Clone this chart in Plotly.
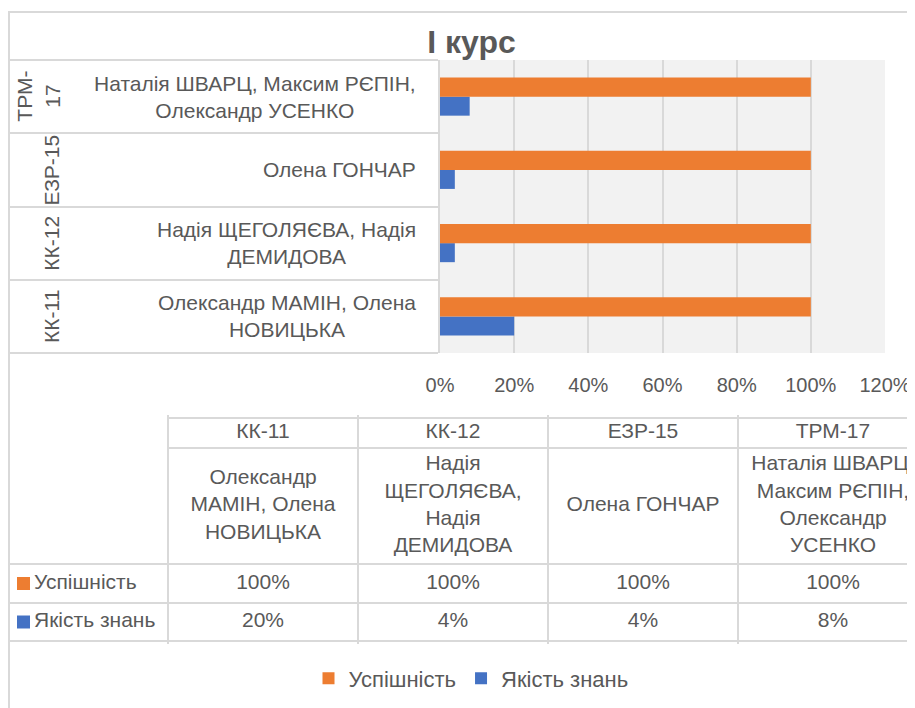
import plotly.graph_objects as go

# ---- data ----
groups = ["КК-11", "КК-12", "ЕЗР-15", "ТРМ-17"]
group_axis_labels = ["КК-11", "КК-12", "ЕЗР-15", "ТРМ-<br>17"]
name_labels = [
    "Олександр МАМІН, Олена<br>НОВИЦЬКА",
    "Надія ЩЕГОЛЯЄВА, Надія<br>ДЕМИДОВА",
    "Олена ГОНЧАР",
    "Наталія ШВАРЦ, Максим РЄПІН,<br>Олександр УСЕНКО",
]
table_name_labels = [
    "Олександр<br>МАМІН, Олена<br>НОВИЦЬКА",
    "Надія<br>ЩЕГОЛЯЄВА,<br>Надія<br>ДЕМИДОВА",
    "Олена ГОНЧАР",
    "Наталія ШВАРЦ,<br>Максим РЄПІН,<br>Олександр<br>УСЕНКО",
]
series_names = ["Успішність", "Якість знань"]
success = [1.00, 1.00, 1.00, 1.00]
quality = [0.20, 0.04, 0.04, 0.08]
x_ticks = [0, 0.2, 0.4, 0.6, 0.8, 1.0, 1.2]
title_text = "І курс"

# ---- style ----
VIEW_W, VIEW_H = 915, 708
OFF = 8                      # default page margin around the figure
W, H = VIEW_W - OFF, VIEW_H - OFF
ORANGE = "#ED7D31"
BLUE = "#4472C4"
GRID = "#D9D9D9"
TXT = "#595959"
FONT = "Liberation Sans, Arial, sans-serif"
FS = 21

# table geometry (pixels)
col_widths = [159, 190, 190, 190, 190]
row_heights = [30, 116, 39, 38]
TABLE_LEFT, TABLE_TOP = 9, 418
TPAD = 3
KEY_SIZE = 13


def fx(px):
    """screen pixel x -> paper fraction"""
    return (px - OFF) / W


def fy(py):
    """screen pixel y -> paper fraction"""
    return 1 - (py - OFF) / H


def cum(vals):
    out, s = [0], 0
    for v in vals:
        s += v
        out.append(s)
    return out


col_edges = cum(col_widths)
row_edges = cum(row_heights)
col_centers = [(a + b) / 2 for a, b in zip(col_edges[:-1], col_edges[1:])]
row_centers = [(a + b) / 2 for a, b in zip(row_edges[:-1], row_edges[1:])]
table_w = VIEW_W - TABLE_LEFT
table_h = row_edges[-1]

fig = go.Figure()

# ---- bars ----
fig.add_trace(go.Bar(y=groups, x=quality, orientation="h", name=series_names[1],
                     marker=dict(color=BLUE, line=dict(width=0)), hoverinfo="skip"))
fig.add_trace(go.Bar(y=groups, x=success, orientation="h", name=series_names[0],
                     marker=dict(color=ORANGE, line=dict(width=0)), hoverinfo="skip"))

# ---- data table (text placed on its own axes) ----
tfont = dict(family=FONT, size=FS, color=TXT)
data_cols = col_centers[1:1 + len(groups)]
fig.add_trace(go.Scatter(x=data_cols, y=[row_centers[0]] * len(groups), text=groups, mode="text",
                         textposition="middle center", textfont=tfont, xaxis="x2", yaxis="y2",
                         showlegend=False, hoverinfo="skip"))
fig.add_trace(go.Scatter(x=data_cols, y=[row_centers[1]] * len(groups), text=table_name_labels,
                         mode="text", textposition="middle center", textfont=tfont,
                         xaxis="x2", yaxis="y2", showlegend=False, hoverinfo="skip"))
for r, vals in enumerate([success, quality]):
    fig.add_trace(go.Scatter(x=data_cols, y=[row_centers[2 + r]] * len(groups),
                             text=[f"{v:.0%}" for v in vals], mode="text",
                             textposition="middle center", textfont=tfont,
                             xaxis="x2", yaxis="y2", showlegend=False, hoverinfo="skip"))
# row headers: colour key squares + series names
colors = [ORANGE, BLUE]
fig.add_trace(go.Scatter(x=[8 + KEY_SIZE / 2] * 2, y=row_centers[2:4], mode="markers",
                         marker=dict(symbol="square", size=KEY_SIZE, color=colors, line=dict(width=0)),
                         xaxis="x2", yaxis="y2", showlegend=False, hoverinfo="skip"))
fig.add_trace(go.Scatter(x=[8 + KEY_SIZE + 4] * 2, y=row_centers[2:4], text=series_names,
                         mode="text", textposition="middle right", textfont=tfont,
                         xaxis="x2", yaxis="y2", showlegend=False, hoverinfo="skip"))

annotations = []
for g, nm, gl in zip(groups, name_labels, group_axis_labels):
    annotations.append(dict(x=fx(418), y=g, xref="paper", yref="y", text=nm, showarrow=False,
                            xanchor="right", yanchor="middle", align="center",
                            font=dict(family=FONT, size=FS, color=TXT)))
    annotations.append(dict(x=fx(65), y=g, xref="paper", yref="y", text=gl, showarrow=False,
                            xanchor="right", yanchor="middle", align="center", textangle=-90,
                            font=dict(family=FONT, size=FS, color=TXT)))

shapes = [
    dict(type="rect", xref="x2", yref="y2", x0=-TPAD, x1=table_w + TPAD, y0=-TPAD, y1=table_h + TPAD,
         fillcolor="white", line=dict(width=0), layer="below"),
    dict(type="rect", xref="x2", yref="y2", x0=-TPAD, x1=col_edges[1] - 1, y0=-TPAD, y1=row_edges[2] - 1,
         fillcolor="white", line=dict(width=0), layer="between"),
    dict(type="rect", xref="paper", yref="paper", x0=fx(9), x1=1.2, y0=-0.2, y1=fy(12),
         line=dict(color=GRID, width=2), fillcolor="rgba(0,0,0,0)", layer="above"),
]

fig.update_layout(
    width=W, height=H,
    margin=dict(l=0, r=0, t=0, b=0, autoexpand=False),
    paper_bgcolor="white",
    plot_bgcolor="#F2F2F2",
    barmode="group", bargap=0.48, bargroupgap=0,
    title=dict(text=f"<b>{title_text}</b>", x=fx(471.5), xanchor="center", y=fy(42), yanchor="middle",
               font=dict(family=FONT, size=32, color=TXT)),
    font=dict(family=FONT, size=FS, color=TXT),
    xaxis=dict(domain=[fx(440), fx(885)], range=[0, 1.2], tickvals=x_ticks, tickformat=".0%",
               showgrid=True, gridcolor=GRID, gridwidth=2, zeroline=False, showline=False,
               ticks="", ticklabelstandoff=18, tickfont=dict(family=FONT, size=20, color=TXT),
               fixedrange=True),
    yaxis=dict(domain=[fy(353), fy(60)], type="category", categoryorder="array", categoryarray=groups,
               range=[-0.5, len(groups) - 0.5],
               showticklabels=False, ticks="outside", tickson="boundaries", ticklen=431,
               tickcolor=GRID, tickwidth=2, showline=True, linecolor=GRID, linewidth=2,
               showgrid=False, zeroline=False, fixedrange=True),
    xaxis2=dict(domain=[fx(TABLE_LEFT), 1.0], range=[0, table_w], tickvals=col_edges[1:],
                showgrid=True, gridcolor=GRID, gridwidth=2, zeroline=False, showline=False,
                showticklabels=False, ticks="", fixedrange=True),
    yaxis2=dict(domain=[fy(TABLE_TOP + table_h + TPAD), fy(TABLE_TOP - TPAD)],
                range=[table_h + TPAD, -TPAD],
                tickvals=row_edges, showgrid=True, gridcolor=GRID, gridwidth=2, zeroline=False,
                showline=False, showticklabels=False, ticks="", fixedrange=True),
    legend=dict(orientation="h", x=fx(471), xanchor="center", y=fy(678.5), yanchor="middle",
                traceorder="reversed", font=dict(family=FONT, size=22, color=TXT),
                bgcolor="rgba(0,0,0,0)"),
    annotations=annotations,
    shapes=shapes,
    showlegend=True,
)

fig.write_html("out.html")
